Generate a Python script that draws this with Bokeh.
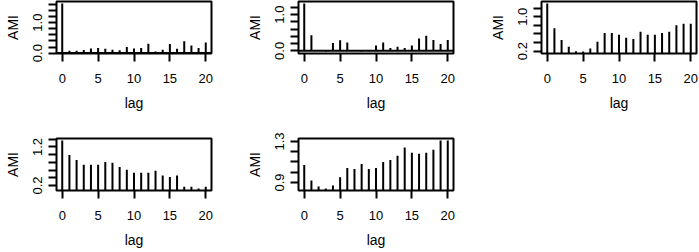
from bokeh.plotting import figure
from bokeh.models import Range1d, FixedTicker, Span, PrintfTickFormatter
from bokeh.layouts import column, row
from bokeh.embed import file_html
from bokeh.resources import INLINE

lags = list(range(21))
x_ticks = [0, 5, 10, 15, 20]

ami_1 = [1.63, 0.08, 0.08, 0.10, 0.15, 0.17, 0.14, 0.11, 0.09, 0.20, 0.15,
         0.17, 0.31, 0.05, 0.11, 0.30, 0.14, 0.39, 0.25, 0.17, 0.35]
ami_2 = [1.31, 0.43, 0.005, -0.015, 0.22, 0.29, 0.23, 0.005, -0.02, -0.01, 0.15,
         0.23, 0.08, 0.11, 0.08, 0.15, 0.34, 0.42, 0.30, 0.19, 0.30]
ami_3 = [1.31, 0.73, 0.46, 0.30, 0.20, 0.19, 0.26, 0.42, 0.62, 0.62, 0.58,
         0.51, 0.48, 0.65, 0.58, 0.58, 0.62, 0.65, 0.80, 0.84, 0.84]
ami_4 = [1.37, 0.99, 0.86, 0.74, 0.74, 0.74, 0.81, 0.79, 0.68, 0.61, 0.53,
         0.53, 0.53, 0.58, 0.46, 0.42, 0.46, 0.17, 0.17, 0.12, 0.17]
ami_5 = [1.07, 0.92, 0.86, 0.84, 0.87, 0.95, 1.04, 1.03, 1.08, 1.03, 1.04,
         1.10, 1.12, 1.16, 1.24, 1.19, 1.18, 1.19, 1.22, 1.31, 1.31]

# y tick values: labelled ones and unlabelled ones
y_lab_1 = [0.0, 1.0]
y_unl_1 = [0.2, 0.4, 0.6, 0.8, 1.2, 1.4, 1.6]
y_lab_2 = [0.0, 1.0]
y_unl_2 = [0.2, 0.4, 0.6, 0.8, 1.2]
y_lab_3 = [0.2, 1.0]
y_unl_3 = [0.4, 0.6, 0.8, 1.2]
y_lab_4 = [0.2, 1.2]
y_unl_4 = [0.4, 0.6, 0.8, 1.0, 1.4]
y_lab_5 = [0.9, 1.3]
y_unl_5 = [1.0, 1.1, 1.2]

FONT = "Liberation Sans"
FS_TICK = "13px"
FS_TITLE = "14px"


def panel(vals, ylab, yunl, w, h, left, right, top, bottom):
    lo, hi = min(vals), max(vals)
    pad = 0.04 * (hi - lo)
    p = figure(width=w, height=h, output_backend="svg", toolbar_location=None,
               x_range=Range1d(-0.8, 20.8), y_range=Range1d(lo - pad, hi + pad),
               min_border_left=left, min_border_right=right,
               min_border_top=top, min_border_bottom=bottom)
    p.grid.visible = False
    p.background_fill_color = "white"
    p.border_fill_color = "white"
    p.outline_line_color = "black"
    p.outline_line_width = 2
    p.outline_line_alpha = 1.0
    p.add_layout(Span(location=0, dimension="width", line_color="black", line_width=2))
    p.segment(x0=lags, y0=0, x1=lags, y1=vals, line_color="black", line_width=2)

    p.xaxis.ticker = FixedTicker(ticks=x_ticks)
    p.yaxis.ticker = FixedTicker(ticks=ylab, minor_ticks=yunl)
    p.yaxis.formatter = PrintfTickFormatter(format="%.1f")
    p.xaxis.axis_label = "lag"
    p.yaxis.axis_label = "AMI"
    p.yaxis.major_label_orientation = "vertical"
    for ax in (p.xaxis[0], p.yaxis[0]):
        ax.axis_line_color = None
        ax.major_tick_out = 8
        ax.major_tick_in = 0
        ax.minor_tick_out = 8
        ax.minor_tick_in = 0
        ax.major_tick_line_width = 2
        ax.minor_tick_line_width = 2
        ax.major_tick_line_color = "black"
        ax.minor_tick_line_color = "black"
        ax.major_label_text_font = FONT
        ax.major_label_text_font_size = FS_TICK
        ax.major_label_text_color = "black"
        ax.axis_label_text_font = FONT
        ax.axis_label_text_font_size = FS_TITLE
        ax.axis_label_text_font_style = "normal"
        ax.axis_label_text_color = "black"
    p.xaxis.major_label_standoff = 12
    p.xaxis.axis_label_standoff = 9
    p.yaxis.major_label_standoff = 6
    p.yaxis.axis_label_standoff = 10
    return p


f1 = panel(ami_1, y_lab_1, y_unl_1, 233, 126, 56, 22, 1, 73)
f2 = panel(ami_2, y_lab_2, y_unl_2, 233, 126, 65, 13, 1, 73)
f3 = panel(ami_3, y_lab_3, y_unl_3, 233, 126, 75, 3, 1, 73)
f4 = panel(ami_4, y_lab_4, y_unl_4, 233, 126, 56, 22, 12, 62)
f5 = panel(ami_5, y_lab_5, y_unl_5, 233, 126, 65, 13, 12, 62)

layout = column(row(f1, f2, f3), row(f4, f5), styles={"margin": "0px"})
open("out.html", "w").write(file_html(layout, INLINE))
